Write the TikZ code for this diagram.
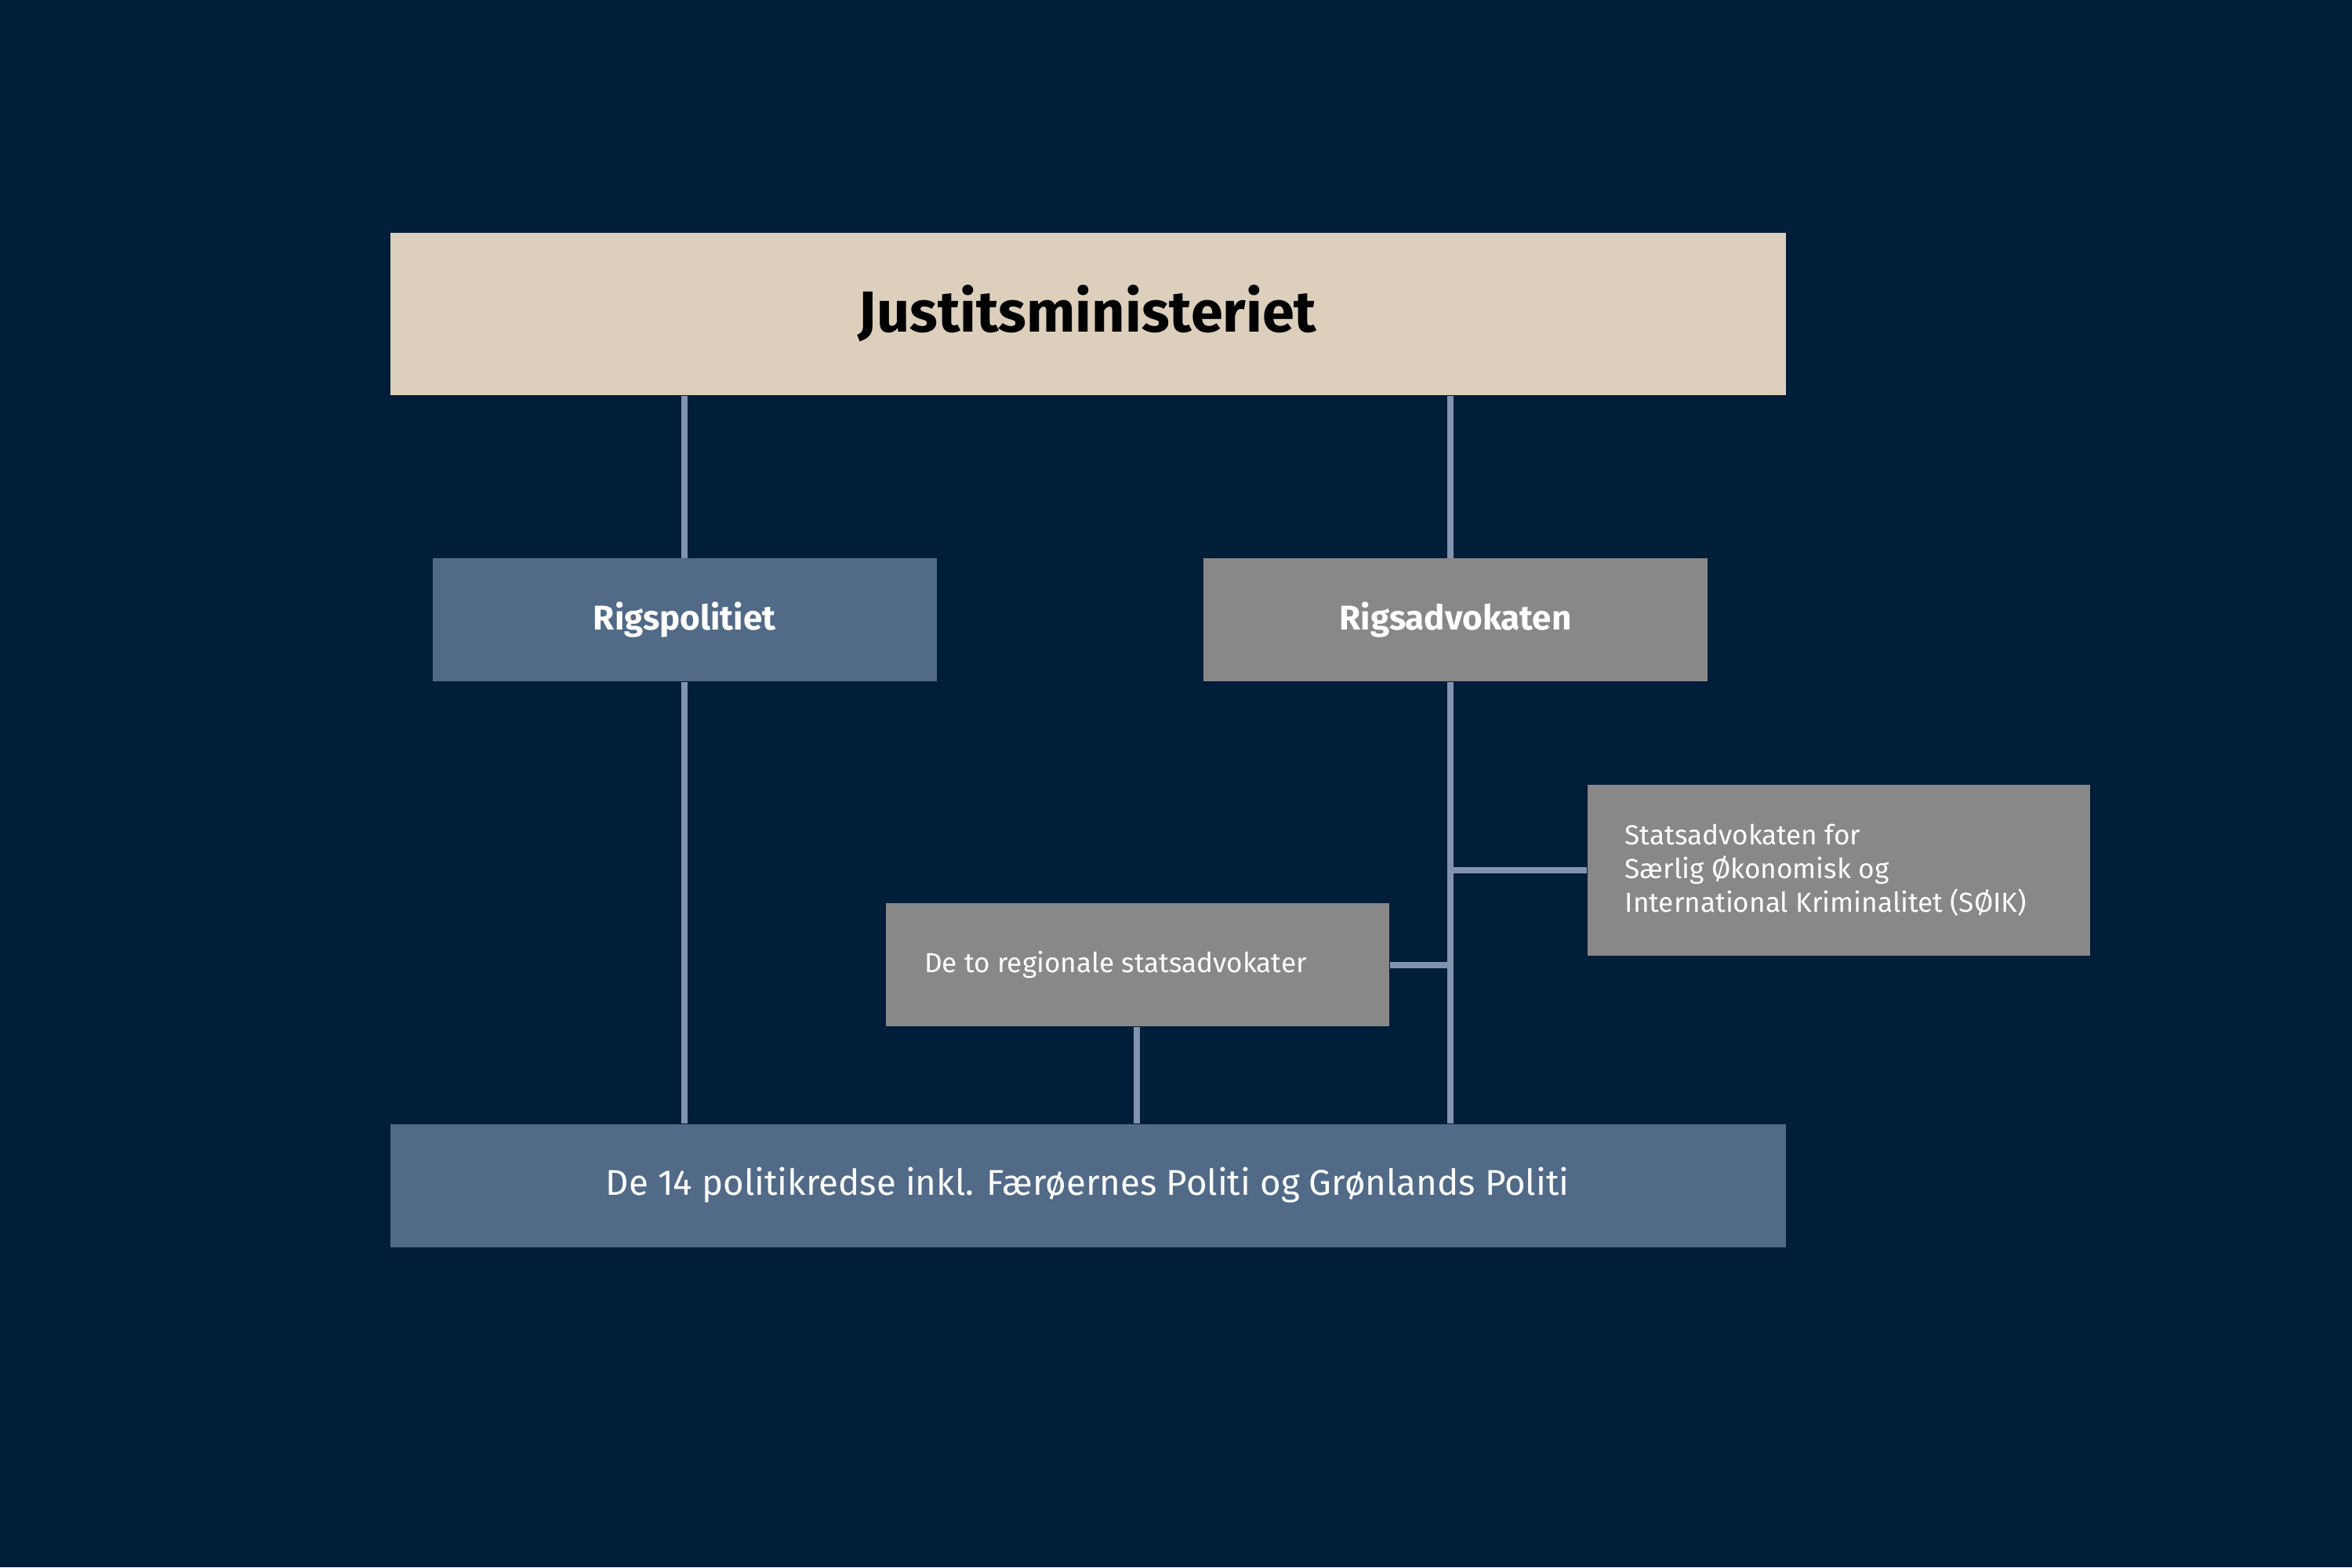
\documentclass[tikz,border=0pt]{standalone}
\usepackage{fontspec}
\setmainfont{Fira Sans}
\definecolor{bg}{HTML}{001D3A}
\definecolor{beige}{HTML}{DCD0BC}
\definecolor{blu}{HTML}{506A87}
\definecolor{gry}{HTML}{888888}
\definecolor{ln}{HTML}{8094AE}
\begin{document}
\begin{tikzpicture}[x=0.01913cm,y=-0.01913cm,
  box/.style={draw=none,inner sep=0pt,anchor=north west},
  conn/.style={draw=ln,line width=0.08cm}]
\fill[bg] (0,0) rectangle (1568,1045);
\useasboundingbox (0,0) rectangle (1568,1045);
\node[box,fill=beige,minimum width=930*0.01913cm,minimum height=108*0.01913cm] (js) at (260,155) {};
\node[font=\bfseries\fontsize{21}{24}\selectfont,text=black] at (725,209) {Justitsministeriet};
\node[box,fill=blu,minimum width=336*0.01913cm,minimum height=82*0.01913cm,text=white,font=\bfseries\fontsize{12.5}{15}\selectfont] (rp) at (288,372) {};
\node[text=white,font=\bfseries\fontsize{12.5}{15}\selectfont] at (rp.center) {Rigspolitiet};
\node[box,fill=gry,minimum width=336*0.01913cm,minimum height=82*0.01913cm] (ra) at (802,372) {};
\node[text=white,font=\bfseries\fontsize{12.5}{15}\selectfont] at (ra.center) {Rigsadvokaten};
\node[box,fill=gry,minimum width=335*0.01913cm,minimum height=114*0.01913cm] (so) at (1058,523) {};
\node[anchor=west,text=white,align=left,font=\fontsize{10}{12.2}\selectfont,inner sep=0pt] at (1083,580) {Statsadvokaten for\\Særlig Økonomisk og\\International Kriminalitet (SØIK)};
\node[box,fill=gry,minimum width=336*0.01913cm,minimum height=82*0.01913cm] (rs) at (590,602) {};
\node[anchor=west,text=white,font=\fontsize{10}{12}\selectfont,inner sep=0pt] at (616,643) {De to regionale statsadvokater};
\node[box,fill=blu,minimum width=930*0.01913cm,minimum height=82*0.01913cm] (pk) at (260,749) {};
\node[text=white,font=\fontsize{13}{15}\selectfont] at (725,790) {De 14 politikredse inkl. Færøernes Politi og Grønlands Politi};
\coordinate (ax) at (967,0);
\draw[conn] (rp.north) -- (rp.north |- js.south);
\draw[conn] (rp.south) -- (rp.south |- pk.north);
\draw[conn] (ax |- js.south) -- (ax |- ra.north);
\draw[conn] (ax |- ra.south) -- (ax |- pk.north);
\draw[conn] (so.west) -- (so.west -| ax);
\draw[conn] (rs.east) -- (rs.east -| ax);
\draw[conn] (758,0 |- rs.south) -- (758,0 |- pk.north);
\end{tikzpicture}
\end{document}
